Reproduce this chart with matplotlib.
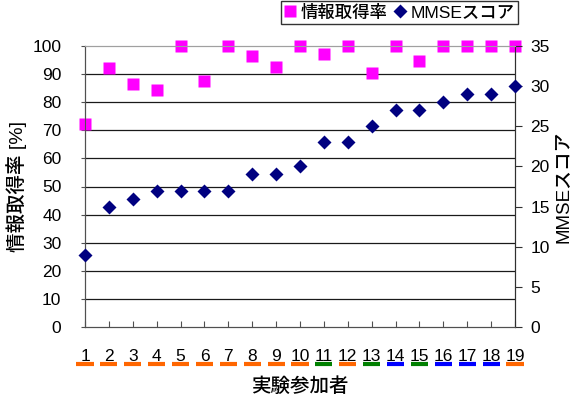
import matplotlib
matplotlib.use("Agg")
import matplotlib.pyplot as plt

plt.rcParams["font.family"] = ["Liberation Sans", "Noto Sans CJK JP"]

# participants and their scores
participants = list(range(1, 20))
info_rate = [72.4, 92, 86.6, 84.5, 100, 87.5, 100, 96.6, 92.7, 100,
             97, 100, 90.5, 100, 94.6, 100, 100, 100, 100]
mmse = [9, 15, 16, 17, 17, 17, 17, 19, 19, 20,
        23, 23, 25, 27, 27, 28, 29, 29, 30]
# group of each participant (underline colour under the tick label)
group = ["a"] * 10 + ["b", "a", "b", "c", "b", "c", "c", "c", "a"]
group_colors = {"a": "#FF6600", "b": "#008000", "c": "#0000FF"}

W, H = 573, 394
fig = plt.figure(figsize=(W / 100, H / 100), dpi=100)
ax = fig.add_axes([85 / W, 1 - 327 / H, 430 / W, 281 / H])
ax2 = ax.twinx()

ax.set_xlim(1, 19)
ax.set_ylim(0, 100)
ax2.set_ylim(0, 35)

# horizontal grid lines
for v in range(10, 100, 10):
    ax.axhline(v, color="#1a1a1a", lw=0.9, zorder=1)

for a in (ax, ax2):
    a.spines["top"].set_color("#a0a0a0")
    a.spines["left"].set_color("#505050")
    a.spines["bottom"].set_color("#505050")
    a.spines["right"].set_color("#303030")

ax.set_yticks(range(0, 101, 10))
ax.tick_params(axis="y", direction="out", length=3, width=0.8,
               color="#505050", pad=14, labelsize=12.5)
ax2.set_yticks(range(0, 36, 5))
ax2.tick_params(axis="y", direction="out", length=5, width=0.8,
                color="#303030", pad=6, labelsize=12.5)

ax.set_xticks(participants)
ax.set_xticklabels([str(p) for p in participants])
ax.tick_params(axis="x", direction="in", length=4, width=0.8,
               color="#505050", pad=16, labelsize=12.5)

# coloured bars under the participant numbers
xt = ax.get_xaxis_transform()
for p, g in zip(participants, group):
    ax.plot([p - 0.36, p + 0.36], [-0.133, -0.133], transform=xt,
            color=group_colors[g], lw=3, solid_capstyle="butt",
            clip_on=False)

l1, = ax.plot(participants, info_rate, "s", color="#FF00FF", ms=8.6,
              mec="none", clip_on=False, zorder=3, label="情報取得率")
l2, = ax2.plot(participants, mmse, "D", color="#000080", ms=7.0,
               mec="none", clip_on=False, zorder=3, label="MMSEスコア")

ax.set_xlabel("実験参加者", fontsize=14, fontweight="medium", labelpad=9)
ax.set_ylabel("情報取得率 [%]", fontsize=14, fontweight="medium",
              labelpad=4)
ax2.set_ylabel("MMSEスコア", fontsize=13.5, fontweight="medium",
               labelpad=4)

leg = fig.legend(handles=[l1, l2], loc="upper right",
                 bbox_to_anchor=(518 / W, 1 - 1 / H), ncol=2,
                 prop={"size": 12.5, "weight": "medium"},
                 frameon=True, fancybox=False, shadow=False,
                 handlelength=0.6, handletextpad=0.3, columnspacing=0.45,
                 borderpad=0.2, borderaxespad=0)
leg.get_frame().set_edgecolor("black")
leg.get_frame().set_linewidth(1.0)

fig.savefig("out.png", dpi=100)
